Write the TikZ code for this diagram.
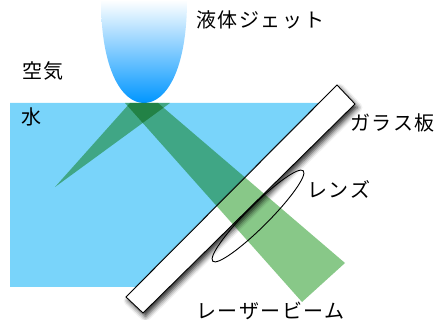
\documentclass[tikz,border=0pt]{standalone}
\usepackage{fontspec}
\newfontfamily\jpfont{Noto Sans CJK JP}[LetterSpace=8]
\usetikzlibrary{shadows.blur}
\definecolor{water}{RGB}{121,212,250}
\definecolor{beam}{RGB}{136,200,136}
\definecolor{jetblue}{RGB}{0,150,255}
\definecolor{jetmid}{RGB}{130,198,255}
\begin{document}
\begin{tikzpicture}[x=1pt,y=-1pt,
  lbl/.style={font=\jpfont\fontsize{20}{20}\selectfont, inner sep=0pt, anchor=base west},
  plate/.style={draw=black, line width=0.9pt, fill=white,
    blur shadow={shadow xshift=2.5pt, shadow yshift=-3.5pt, shadow blur radius=5pt, shadow opacity=85}},
  lensline/.style={draw=black, line width=0.9pt},
]
\useasboundingbox (0,0) rectangle (439,320);
% water volume, cut along the glass plate
\fill[water] (10,103) -- (327,103) -- (143,287) -- (10,287) -- cycle;
% liquid jet with vertical gradient
\shade[top color=white, middle color=jetmid, bottom color=jetblue]
  (101,0) .. controls (101,70) and (122,103) .. (144,103)
  .. controls (166,103) and (187,70) .. (187,0) -- cycle;
% glass plate
\draw[plate] (126,297) -- (337,85) -- (355,104) -- (143,313) -- cycle;
% laser beam and its reflection
\begin{scope}[blend mode=multiply]
  \fill[beam] (125,103) -- (158,103) -- (345,263) -- (302,302) -- cycle;
  \fill[beam] (130,103) -- (170,103) -- (55,187) -- cycle;
\end{scope}
% lens
\draw[lensline, rotate around={45:(258,216)}] (258,216) ellipse [x radius=64, y radius=11];
% labels
\node[lbl] (jet) at (196,27.6) {液体ジェット};
\node[lbl] (air) at (22,79) {空気};
\node[lbl] (wat) at (21,124.6) {水};
\node[lbl] (glass) at (350,130.6) {ガラス板};
\node[lbl] (lens) at (307,197.6) {レンズ};
\node[lbl] (laser) at (196,318.6) {レーザービーム};
\end{tikzpicture}
\end{document}
